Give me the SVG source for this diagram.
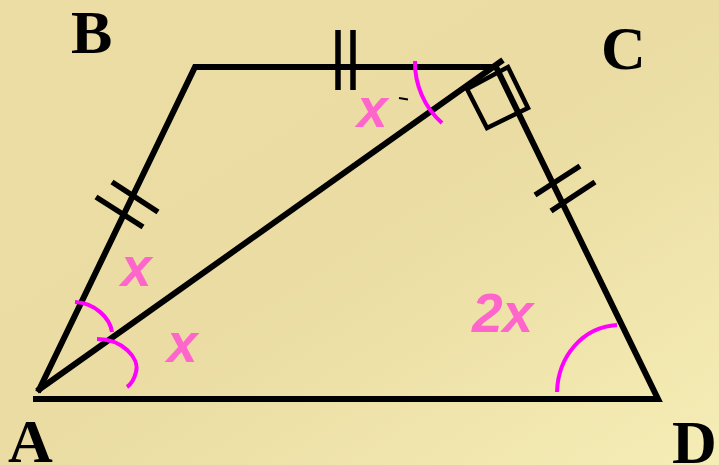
<svg xmlns="http://www.w3.org/2000/svg" width="719" height="465" viewBox="0 0 719 465">
<defs>
<linearGradient id="bg" x1="0" y1="0" x2="1" y2="1">
<stop offset="0" stop-color="#EBDDA4"/>
<stop offset="0.5" stop-color="#EADCA2"/>
<stop offset="1" stop-color="#F5EDB6"/>
</linearGradient>
<style>
.ln{stroke:#000;stroke-width:6;fill:none;stroke-linejoin:miter}
.tk{stroke:#000;stroke-width:5.5;fill:none}
.arc{stroke:#FF00FF;stroke-width:4;fill:none}
.lbl{font-family:"Liberation Serif","Times New Roman",serif;font-weight:bold;font-size:62px;fill:#000}
.ang{font-family:"Liberation Sans",Arial,sans-serif;font-weight:bold;font-style:italic;font-size:55px;fill:#FF66CC}
</style>
</defs>
<rect width="719" height="465" fill="url(#bg)"/>
<g id="connectors">
<polyline class="ln" points="33,399 658,399 496,67 195,67 38,392"/>
<line class="ln" x1="37" y1="391" x2="503" y2="60"/>
<polygon points="467,89 487,128 528,108 508,67" fill="none" stroke="#000" stroke-width="4.5"/>
<line class="tk" x1="338" y1="30" x2="338" y2="90"/>
<line class="tk" x1="353" y1="30" x2="353" y2="90"/>
<line class="tk" x1="112" y1="182" x2="158" y2="212"/>
<line class="tk" x1="96" y1="197" x2="143" y2="227"/>
<line class="tk" x1="535" y1="195" x2="580" y2="166"/>
<line class="tk" x1="551" y1="211" x2="595" y2="182"/>
<line x1="399" y1="98" x2="408" y2="99.5" stroke="#000" stroke-width="2"/>
<path class="arc" d="M415,61 A81,81 0 0 0 442,123"/>
<path class="arc" d="M75,302 C95,303 110,318 112,332"/>
<path class="arc" d="M97,339 C122,339 140,358 136,372 C134,380 130,385 127,387"/>
<path class="arc" d="M617,325 C583,327 558,356 557,392"/>
</g>
<g id="A"><text class="lbl" x="8" y="462">A</text></g>
<g id="B"><text class="lbl" x="71" y="53">B</text></g>
<g id="C"><text class="lbl" x="601" y="69">C</text></g>
<g id="D"><text class="lbl" x="672" y="463">D</text></g>
<g id="angles">
<text class="ang" x="357" y="127">x</text>
<text class="ang" x="121" y="286">x</text>
<text class="ang" x="167" y="362">x</text>
<text class="ang" x="472" y="332">2x</text>
</g>
</svg>
